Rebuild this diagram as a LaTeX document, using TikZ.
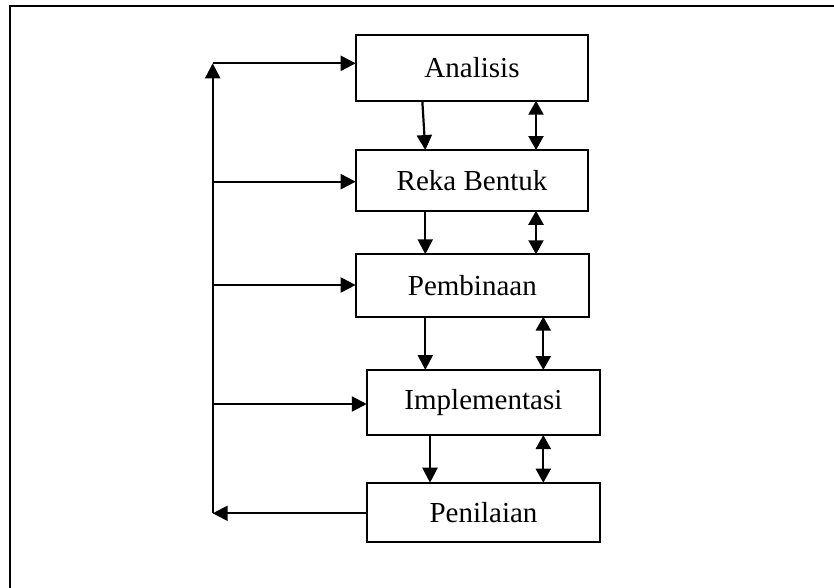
\documentclass[tikz,border=0pt]{standalone}
\usepackage{fontspec}
\setmainfont{Liberation Serif}
\usetikzlibrary{arrows.meta}

\tikzset{
  stage/.style={draw, line width=2.1pt, inner sep=0pt, outer sep=0pt,
    font=\fontsize{29}{34}\selectfont},
  arr/.style={line width=2.2pt, -{Triangle[length=15pt,width=15pt]}},
  darr/.style={line width=2.2pt, {Triangle[length=14pt,width=15pt]}-{Triangle[length=14pt,width=15pt]}},
  frameline/.style={line width=2pt}
}

\begin{document}
\begin{tikzpicture}[x=1pt, y=-1pt]
  \useasboundingbox (0,0) rectangle (834,588);

  % outer frame (runs off the right and bottom edges)
  \draw[frameline] (9.5,588) -- (9.5,6) -- (834,6);

  % the five stages
  \node[stage, minimum width=232.6pt, minimum height=65.7pt] (ana)  at (472,67.9)   {Analisis};
  \node[stage, minimum width=232.6pt, minimum height=60.7pt] (reka) at (472,180.4)  {Reka Bentuk};
  \node[stage, minimum width=233.3pt, minimum height=62.4pt] (pem)  at (472.3,285.5){Pembinaan};
  \node[stage, minimum width=233.3pt, minimum height=65pt]   (imp)  at (483.4,402.5){Implementasi};
  \node[stage, minimum width=233pt,   minimum height=59pt]   (pen)  at (483.5,512.2){Penilaian};

  % column positions of the vertical connectors
  \coordinate (cA)  at (422.3,0);
  \coordinate (cA2) at (425.3,0);
  \coordinate (cB)  at (425.3,0);
  \coordinate (cC)  at (430,0);
  \coordinate (dA)  at (536,0);
  \coordinate (dB)  at (543.3,0);

  % forward flow
  \draw[arr] (ana.south -| cA)  -- (reka.north -| cA2);
  \draw[arr] (reka.south -| cB) -- (pem.north -| cB);
  \draw[arr] (pem.south -| cB)  -- (imp.north -| cB);
  \draw[arr] (imp.south -| cC)  -- (pen.north -| cC);

  % two-way links
  \draw[darr] (ana.south -| dA)  -- (reka.north -| dA);
  \draw[darr] (reka.south -| dA) -- (pem.north -| dA);
  \draw[darr] (pem.south -| dB)  -- (imp.north -| dB);
  \draw[darr] (imp.south -| dB)  -- (pen.north -| dB);

  % feedback loop on the left
  \coordinate (l0) at (212.7,63.3);
  \coordinate (l1) at (212.7,181.7);
  \coordinate (l2) at (212.7,285);
  \coordinate (l3) at (212.7,404);
  \coordinate (l4) at (212.7,513.3);

  \draw[arr] (pen.west |- l4) -- (l4);
  \draw[arr] (l4) -- (l0);
  \draw[arr] (l0) -- (ana.west |- l0);
  \draw[arr] (l1) -- (reka.west |- l1);
  \draw[arr] (l2) -- (pem.west |- l2);
  \draw[arr] (l3) -- (imp.west |- l3);
\end{tikzpicture}
\end{document}
